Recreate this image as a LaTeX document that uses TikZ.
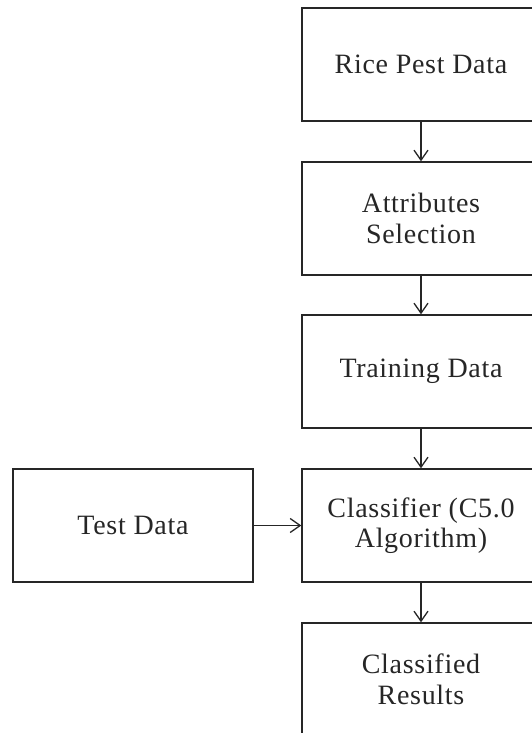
\documentclass[tikz,border=0pt]{standalone}
\usepackage{fontspec}
\setmainfont{Liberation Serif}[LetterSpace=2.5]
\usetikzlibrary{arrows.meta}
\begin{document}
\begin{tikzpicture}[x=1pt,y=-1pt,
  flowbox/.style={draw=black!85, line width=1.4pt, minimum width=238pt, minimum height=113pt,
    align=center, inner sep=0pt, font=\fontsize{28}{30.5}\selectfont, text=black!85},
  flowarrow/.style={draw=black!85, line width=1.3pt, -{Straight Barb[length=10pt,width=14pt,line width=1.3pt]}}]
  \useasboundingbox (0,0) rectangle (532,733);
  \fill[white] (0,0) rectangle (532,733);
  \node[flowbox] (pest)     at (421,64.5)  {Rice Pest Data};
  \node[flowbox] (attr)     at (421,218.5) {Attributes\\Selection};
  \node[flowbox] (train)    at (421,371.5) {Training Data};
  \node[flowbox] (classify) at (421,525.5) {Classifier (C5.0\\Algorithm)};
  \node[flowbox] (result)   at (421,679.5) {Classified\\Results};
  \node[flowbox, minimum width=240pt] (test) at (133,525.5) {Test Data};
  \draw[flowarrow] (pest) -- (attr);
  \draw[flowarrow] (attr) -- (train);
  \draw[flowarrow] (train) -- (classify);
  \draw[flowarrow] (classify) -- (result);
  \draw[flowarrow] (test) -- (classify);
\end{tikzpicture}
\end{document}
